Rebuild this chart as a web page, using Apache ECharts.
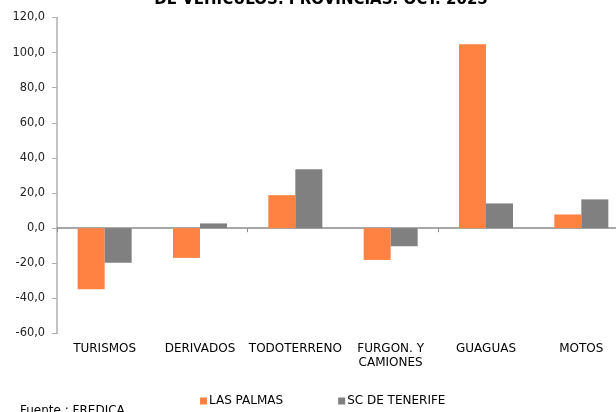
<!DOCTYPE html>
<html><head><meta charset="utf-8">
<script src="https://cdn.jsdelivr.net/npm/echarts@6/dist/echarts.min.js"></script>
<style>html,body{margin:0;padding:0;background:#fff;overflow:hidden;width:616px;height:412px}#c{width:629px;height:412px}</style>
</head><body><div id="c"></div>
<script>
const categories = ['TURISMOS','DERIVADOS','TODOTERRENO','FURGON. Y\nCAMIONES','GUAGUAS','MOTOS'];
const lasPalmas = [-34.8, -16.9, 18.8, -18.1, 104.8, 7.8];
const tenerife = [-19.7, 2.7, 33.6, -10.3, 14.1, 16.4];
const seriesNames = ['LAS PALMAS','SC DE TENERIFE'];
const yTicks = {min: -60, max: 120, interval: 20};
const titleText = 'DE VEHICULOS. PROVINCIAS. OCT. 2025';
const sourceText = 'Fuente : FREDICA';

const font = '"DejaVu Sans", Verdana, sans-serif';
const chart = echarts.init(document.getElementById('c'), null, {renderer:'canvas'});
chart.setOption({
  animation: false,
  backgroundColor: '#fff',
  legend: {data: seriesNames, left: 200, top: 395, padding: 0, itemWidth: 7, itemHeight: 7, itemGap: 55,
    icon: 'rect', textStyle: {fontFamily: font, fontSize: 12, color: '#000', padding: [0,0,0,-3]}},
  graphic: [
    {type: 'text', style: {x: 321, y: 8, text: titleText, textAlign: 'center', textVerticalAlign: 'bottom',
      font: 'bold 15px "DejaVu Sans"', fill: '#000'}},
    {type: 'text', style: {x: 20, y: 405, text: sourceText, font: '12px "DejaVu Sans"', fill: '#000'}}
  ],
  grid: {left: 57, right: 0, top: 17.5, bottom: 78.5, containLabel: false},
  xAxis: [{
    type: 'category', data: categories,
    axisLine: {onZero: true, lineStyle: {color: '#8c8c8c', width: 1.5}},
    axisTick: {show: true, length: 4, lineStyle: {color: '#8c8c8c'}},
    axisLabel: {show: false}
  },{
    type: 'category', data: categories, position: 'bottom',
    axisLine: {show: false, onZero: false}, axisTick: {show: false},
    axisLabel: {margin: 8, fontFamily: font, fontSize: 12, color: '#000', lineHeight: 14, interval: 0}
  }],
  yAxis: {
    type: 'value', min: yTicks.min, max: yTicks.max, interval: yTicks.interval,
    axisLine: {show: true, lineStyle: {color: '#b0b0b0', width: 1.5}},
    axisTick: {show: true, length: 5, lineStyle: {color: '#b0b0b0'}},
    splitLine: {show: false},
    axisLabel: {margin: 12, fontFamily: font, fontSize: 11.4, color: '#222',
      formatter: v => v.toFixed(1).replace('.', ',')}
  },
  series: [
    {name: seriesNames[0], type: 'bar', data: lasPalmas, barWidth: 27, barGap: '0%',
     itemStyle: {color: '#FF8243'}},
    {name: seriesNames[1], type: 'bar', data: tenerife, barWidth: 27, barGap: '0%',
     itemStyle: {color: '#808080'}}
  ]
});
</script></body></html>
